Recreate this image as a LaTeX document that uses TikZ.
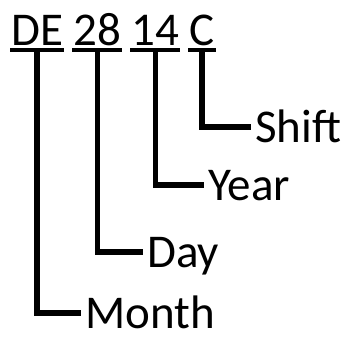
\documentclass[tikz,border=0pt]{standalone}
\usepackage{fontspec}
\setmainfont{Carlito}
\usetikzlibrary{positioning}

\begin{document}
\begin{tikzpicture}[x=1pt, y=-1pt, font=\fontsize{47}{56}\selectfont,
  codepart/.style={inner sep=0pt, text height=31pt, text depth=0pt},
  tag/.style={anchor=west, inner sep=0pt, text height=31pt, text depth=0pt},
  uline/.style={line width=4.5pt},
  wire/.style={line width=5.5pt}]
  \useasboundingbox (0,0) rectangle (351,338);
  % --- top: the code, in four parts ---
  \node[codepart, anchor=base west] (de) at (11,45) {DE};
  \node[codepart, right=10pt of de] (day) {28};
  \node[codepart, right=10pt of day] (yr) {14};
  \node[codepart, right=10pt of yr] (sh) {C};
  \foreach \p in {de, day, yr, sh}
    \draw[uline] ([xshift=-1pt, yshift=-5pt]\p.south west) -- ([xshift=1pt, yshift=-5pt]\p.south east);
  % --- labels ---
  \node[tag] (shift) at (255,127) {Shift};
  \node[tag] (year)  at (208,185) {Year};
  \node[tag] (dayl)  at (147,252) {Day};
  \node[tag] (month) at (85,313)  {Month};
  % --- connectors ---
  \draw[wire] ([yshift=-5pt]sh.south)  |- ([xshift=-4pt]shift.west);
  \draw[wire] ([yshift=-5pt]yr.south)  |- ([xshift=-4pt]year.west);
  \draw[wire] ([yshift=-5pt]day.south) |- ([xshift=-4pt]dayl.west);
  \draw[wire] ([yshift=-5pt]de.south)  |- ([xshift=-4pt]month.west);
\end{tikzpicture}
\end{document}
